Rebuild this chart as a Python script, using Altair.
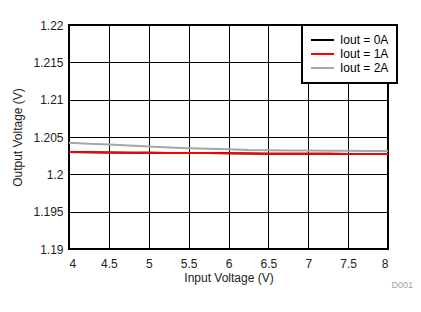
import altair as alt
import pandas as pd

vin = [4.0, 4.25, 4.5, 4.75, 5.0, 5.25, 5.5, 5.75, 6.0, 6.25, 6.5, 6.75, 7.0, 7.25, 7.5, 7.75, 8.0]
vout_0a = [1.20300, 1.20296, 1.20292, 1.20290, 1.20288, 1.20287, 1.20286, 1.20285, 1.20282,
           1.20278, 1.20277, 1.20276, 1.20275, 1.20275, 1.20274, 1.20274, 1.20273]
vout_1a = [1.20300, 1.20296, 1.20292, 1.20290, 1.20288, 1.20287, 1.20286, 1.20285, 1.20282,
           1.20278, 1.20277, 1.20276, 1.20275, 1.20275, 1.20274, 1.20274, 1.20273]
vout_2a = [1.20422, 1.20410, 1.20398, 1.20385, 1.20372, 1.20360, 1.20350, 1.20343, 1.20335,
           1.20325, 1.20322, 1.20320, 1.20318, 1.20316, 1.20315, 1.20314, 1.20313]
series = ["Iout = 0A", "Iout = 1A", "Iout = 2A"]
colors = ["#000000", "#FF0000", "#A6A6A6"]
x_ticks = [4, 4.5, 5, 5.5, 6, 6.5, 7, 7.5, 8]
y_ticks = [1.19, 1.195, 1.2, 1.205, 1.21, 1.215, 1.22]

rows = []
for name, vals in zip(series, [vout_0a, vout_1a, vout_2a]):
    for x, y in zip(vin, vals):
        rows.append({"vin": x, "vout": y, "series": name})
df = pd.DataFrame(rows)

FONT = "Liberation Sans"

chart = alt.Chart(df).mark_line(strokeWidth=2, interpolate="linear").encode(
    x=alt.X("vin:Q", title="Input Voltage (V)",
            scale=alt.Scale(domain=[4, 8], nice=False, zero=False),
            axis=alt.Axis(values=x_ticks, format="~g", tickSize=0, labelPadding=9,
                          grid=True, gridColor="#000000", gridWidth=1, gridOpacity=1,
                          domain=False, titlePadding=3)),
    y=alt.Y("vout:Q", title="Output Voltage (V)",
            scale=alt.Scale(domain=[1.19, 1.22], nice=False, zero=False),
            axis=alt.Axis(values=y_ticks, format=".4~g", tickSize=0, labelPadding=6,
                          grid=True, gridColor="#000000", gridWidth=1, gridOpacity=1,
                          domain=False, titlePadding=8)),
    color=alt.Color("series:N", title=None,
                    scale=alt.Scale(domain=series, range=colors),
                    legend=alt.Legend(orient="none", legendX=233, legendY=0,
                                      symbolType="stroke", symbolSize=529,
                                      symbolStrokeWidth=2, labelFontSize=12,
                                      labelFont=FONT, labelColor="#000000",
                                      labelOffset=5, rowPadding=0, padding=8,
                                      clipHeight=14,
                                      strokeColor="#000000", fillColor="#FFFFFF",
                                      labelLimit=200)),
    order=alt.Order("series:N")
).properties(
    width=319, height=224,
    autosize=alt.AutoSizeParams(type="none"),
    padding={"left": 69, "top": 25, "right": 33, "bottom": 63},
    title=alt.Title("D001", orient="bottom", anchor="end", fontSize=9,
                    font=FONT, fontWeight="normal", color="#A0A0A0",
                    dx=15, offset=-2)
).configure_view(
    stroke="#000000", strokeWidth=2
).configure_axis(
    labelFont=FONT, titleFont=FONT, labelFontSize=12, titleFontSize=12,
    labelColor="#222222", titleColor="#222222", titleFontWeight="normal"
).configure_legend(
    strokeWidth=2
)

chart.save("out.html", embed_options={"renderer": "svg", "actions": False})
